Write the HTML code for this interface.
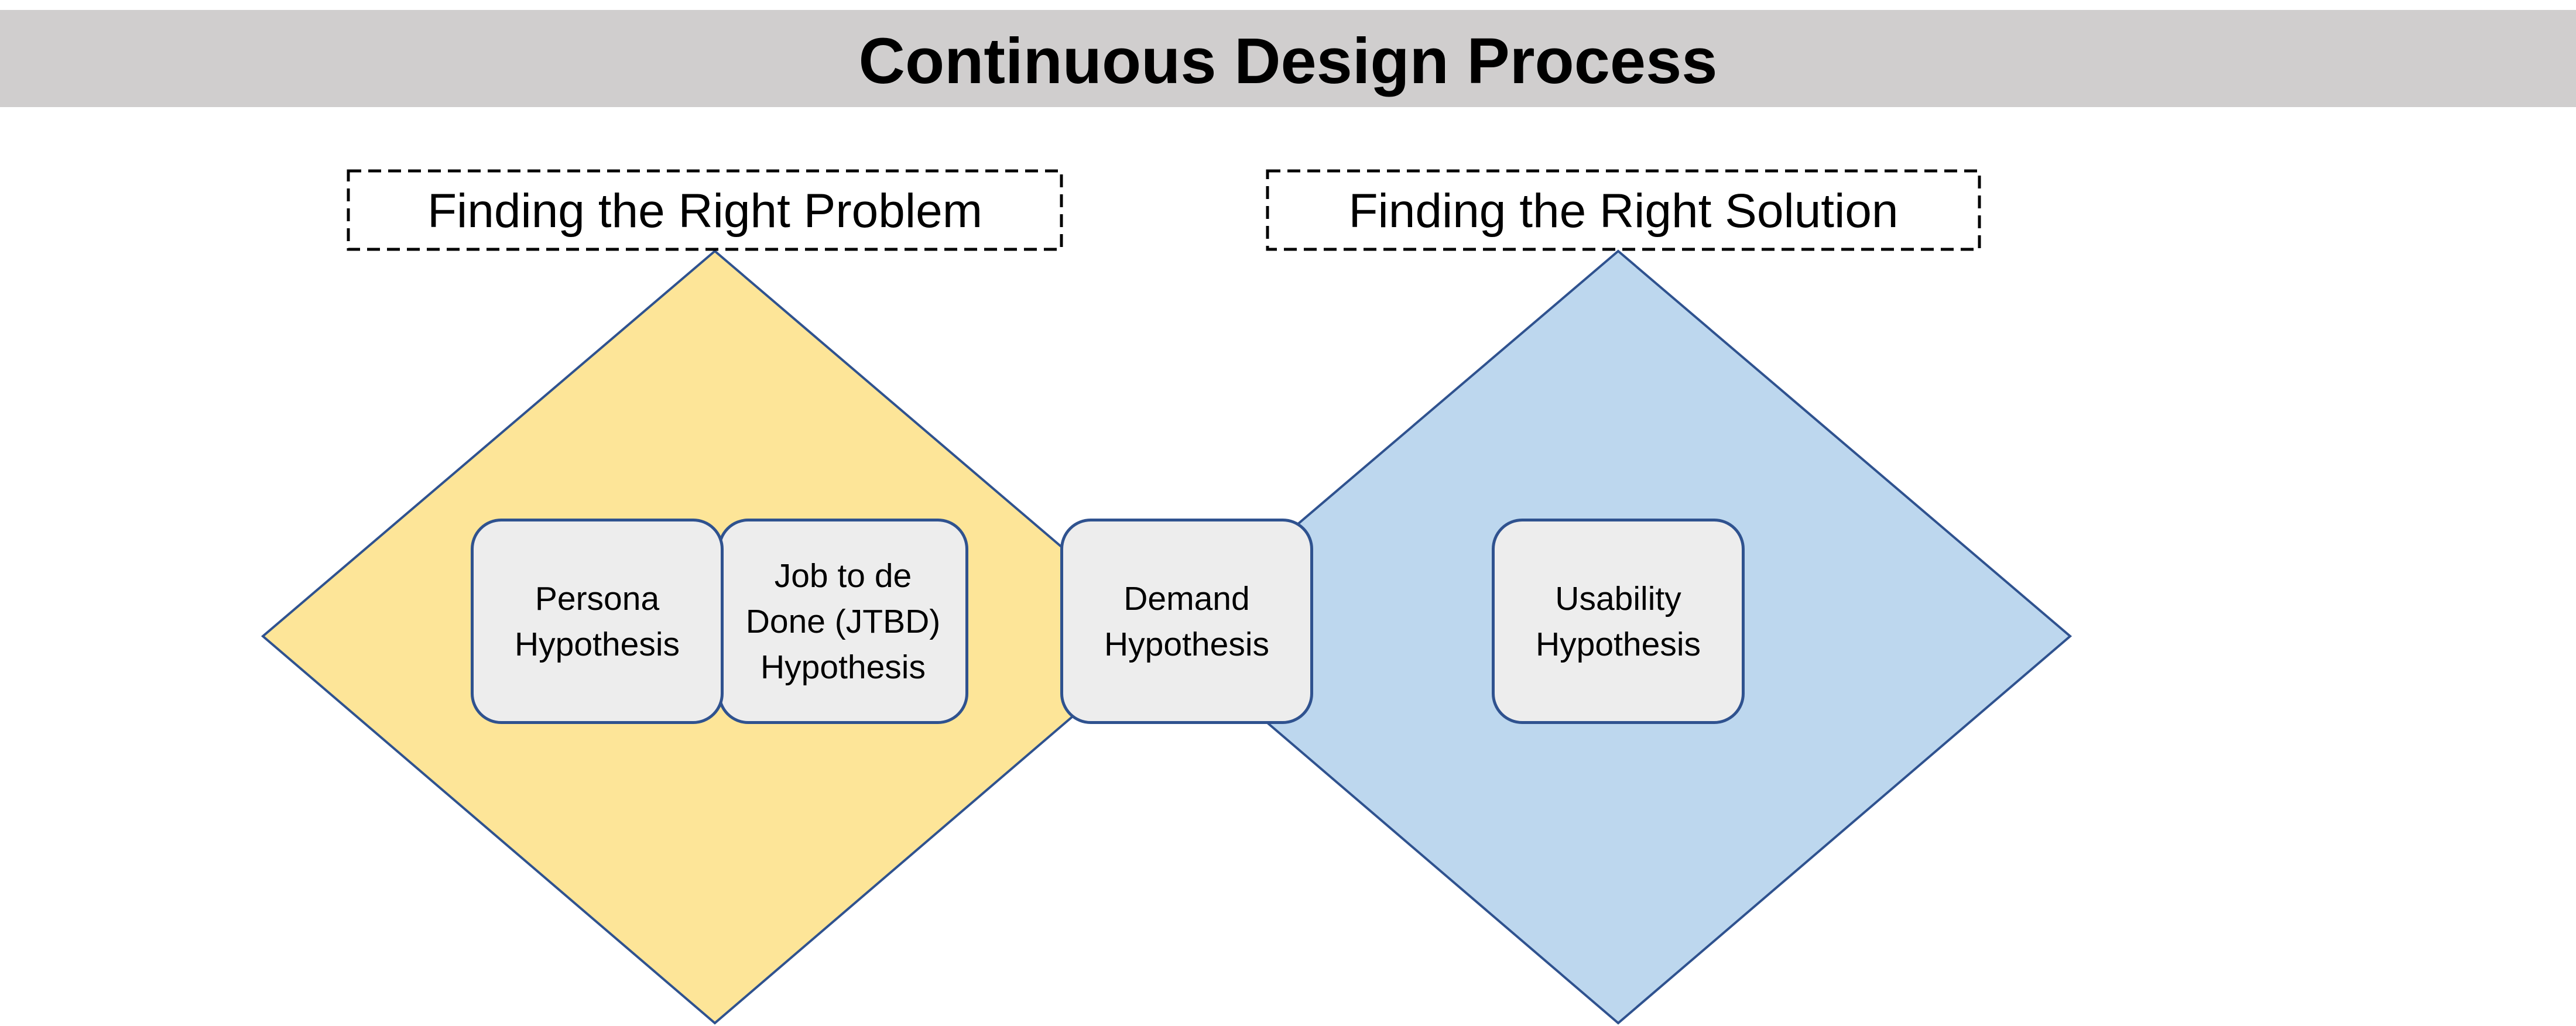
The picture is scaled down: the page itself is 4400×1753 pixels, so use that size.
<!DOCTYPE html>
<html><head><meta charset="utf-8"><style>
html,body{margin:0;padding:0;background:#fff;}
body{width:4400px;height:1753px;position:relative;overflow:hidden;font-family:"Liberation Sans",Arial,sans-serif;}
.bar{position:absolute;left:0;top:17px;width:4400px;height:166px;background:#d0cece;}
.title{position:absolute;left:0;top:22px;width:4400px;height:166px;line-height:166px;text-align:center;font-weight:bold;font-size:110px;color:#000;}
.box{position:absolute;display:flex;align-items:center;justify-content:center;text-align:center;box-sizing:border-box;background:#ededed;border:5px solid #2f528f;border-radius:52px;font-size:57px;line-height:78px;color:#000;}
</style></head><body>
<div class="bar"></div>
<div class="title">Continuous Design Process</div>
<svg width="4400" height="1753" style="position:absolute;left:0;top:0">
<polygon points="1221,429 1992,1087 1221,1748 449,1087" fill="#fde598" stroke="#2f528f" stroke-width="4"/>
<polygon points="2764,429 3536,1087 2764,1748 1992,1087" fill="#bdd7ee" stroke="#2f528f" stroke-width="4"/>
<rect x="595" y="292" width="1218" height="134" fill="#fff" stroke="#000" stroke-width="5" stroke-dasharray="22,12"/>
<rect x="2165" y="292" width="1216" height="134" fill="#fff" stroke="#000" stroke-width="5" stroke-dasharray="22,12"/>
<text x="1204" y="388" font-family="Liberation Sans, Arial, sans-serif" font-size="82" text-anchor="middle">Finding the Right Problem</text>
<text x="2773" y="388" font-family="Liberation Sans, Arial, sans-serif" font-size="82" text-anchor="middle">Finding the Right Solution</text>
</svg>
<div class="box" style="left:1226px;top:886px;width:428px;height:351px;">Job to de<br>Done (JTBD)<br>Hypothesis</div>
<div class="box" style="left:804px;top:886px;width:432px;height:351px;">Persona<br>Hypothesis</div>
<div class="box" style="left:1811px;top:886px;width:432px;height:351px;">Demand<br>Hypothesis</div>
<div class="box" style="left:2548px;top:886px;width:432px;height:351px;">Usability<br>Hypothesis</div>
</body></html>
